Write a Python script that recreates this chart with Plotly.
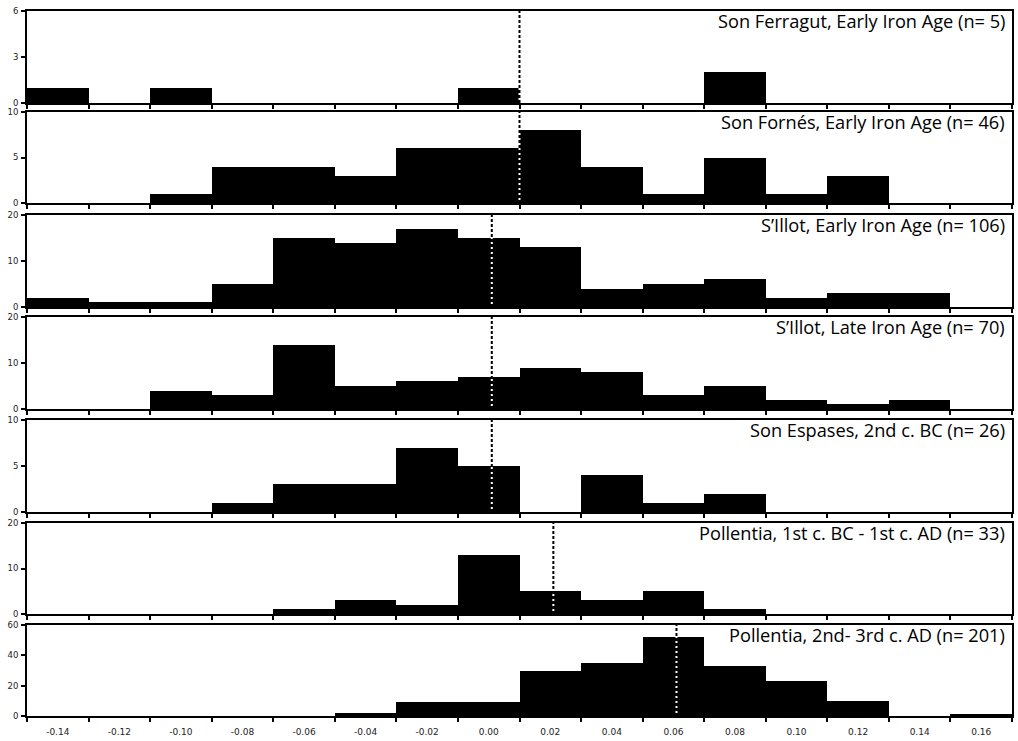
import plotly.graph_objects as go

# Histogram bins: width 0.02, edges from -0.15 to 0.17
bin_centers = [-0.14, -0.12, -0.10, -0.08, -0.06, -0.04, -0.02, 0.00,
               0.02, 0.04, 0.06, 0.08, 0.10, 0.12, 0.14, 0.16]
bin_edges = [-0.15, -0.13, -0.11, -0.09, -0.07, -0.05, -0.03, -0.01,
             0.01, 0.03, 0.05, 0.07, 0.09, 0.11, 0.13, 0.15, 0.17]
x_tick_labels = ["-0.14", "-0.12", "-0.10", "-0.08", "-0.06", "-0.04", "-0.02", "0.00",
                 "0.02", "0.04", "0.06", "0.08", "0.10", "0.12", "0.14", "0.16"]

titles = [
    "Son Ferragut, Early Iron Age (n= 5)",
    "Son Fornés, Early Iron Age (n= 46)",
    "S\u2019Illot, Early Iron Age (n= 106)",
    "S\u2019Illot, Late Iron Age (n= 70)",
    "Son Espases, 2nd c. BC (n= 26)",
    "Pollentia, 1st c. BC - 1st c. AD (n= 33)",
    "Pollentia, 2nd- 3rd c. AD (n= 201)",
]

son_ferragut_eia = [1, 0, 1, 0, 0, 0, 0, 1, 0, 0, 0, 2, 0, 0, 0, 0]
son_fornes_eia = [0, 0, 1, 4, 4, 3, 6, 6, 8, 4, 1, 5, 1, 3, 0, 0]
sillot_eia = [2, 1, 1, 5, 15, 14, 17, 15, 13, 4, 5, 6, 2, 3, 3, 0]
sillot_lia = [0, 0, 4, 3, 14, 5, 6, 7, 9, 8, 3, 5, 2, 1, 2, 0]
son_espases_2bc = [0, 0, 0, 1, 3, 3, 7, 5, 0, 4, 1, 2, 0, 0, 0, 0]
pollentia_1bc_1ad = [0, 0, 0, 0, 1, 3, 2, 13, 5, 3, 5, 1, 0, 0, 0, 0]
pollentia_2_3ad = [0, 0, 0, 0, 0, 2, 9, 9, 30, 35, 52, 33, 23, 10, 0, 1]

series = [son_ferragut_eia, son_fornes_eia, sillot_eia, sillot_lia,
          son_espases_2bc, pollentia_1bc_1ad, pollentia_2_3ad]

y_max = [6, 10, 20, 20, 10, 20, 60]
y_ticks = [[0, 3, 6], [0, 5, 10], [0, 10, 20], [0, 10, 20],
           [0, 5, 10], [0, 10, 20], [0, 20, 40, 60]]

# Sample means marked with a dotted vertical line
mean_values = [0.010, 0.010, 0.001, 0.001, 0.001, 0.021, 0.061]

# ---- layout geometry (pixels) ----
W, H = 1018, 741
M_L, M_R, M_T, M_B = 27, 4, 11, 25
plot_h = H - M_T - M_B
panel_top_px = [11, 112, 215, 317, 420, 523, 625]
panel_bot_px = [103, 203, 307, 409, 512, 614, 716]

tick_font = dict(family="DejaVu Sans", size=9, color="#222222")
title_font = dict(family="Open Sans", size=18.2, color="#000000")

fig = go.Figure()
n = len(series)
for i in range(n):
    k = i + 1
    xa = "x" if k == 1 else f"x{k}"
    ya = "y" if k == 1 else f"y{k}"
    fig.add_trace(go.Bar(
        x=bin_centers, y=series[i], width=0.02,
        marker=dict(color="#000000", line=dict(width=0)),
        xaxis=xa, yaxis=ya, showlegend=False, hoverinfo="x+y",
    ))

    d0 = (H - M_B - panel_bot_px[i]) / plot_h
    d1 = (H - M_B - panel_top_px[i]) / plot_h
    last = (i == n - 1)
    xaxis = dict(
        domain=[0, 1], range=[bin_edges[0], bin_edges[-1]], anchor=ya,
        showline=True, linecolor="#000000", linewidth=2, mirror=True,
        showgrid=False, zeroline=False,
        tickmode="array", tickvals=bin_centers, ticktext=x_tick_labels,
        ticks="", showticklabels=last, tickfont=tick_font,
        ticklabelstandoff=6,
        minor=dict(tickmode="array", tickvals=bin_edges, ticks="outside",
                   ticklen=4, tickwidth=1.6, tickcolor="#000000", showgrid=False),
    )
    if k > 1:
        xaxis["matches"] = "x"
    yaxis = dict(
        domain=[d0, d1], range=[0, y_max[i]], anchor=xa,
        showline=True, linecolor="#000000", linewidth=2, mirror=True,
        showgrid=False, zeroline=False,
        tickmode="array", tickvals=y_ticks[i], ticks="outside",
        ticklen=4, tickwidth=1.6, tickcolor="#000000", tickfont=dict(
            family="DejaVu Sans", size=8.5, color="#222222"),
        ticklabelstandoff=1,
    )
    fig.layout[("xaxis" if k == 1 else f"xaxis{k}")] = xaxis
    fig.layout[("yaxis" if k == 1 else f"yaxis{k}")] = yaxis

    # Dotted mean line: black over white areas, white over the bars
    ydom = ("y" if k == 1 else f"y{k}") + " domain"
    fig.add_shape(type="line", xref=xa, yref=ydom,
                  x0=mean_values[i], x1=mean_values[i], y0=0, y1=1,
                  line=dict(color="#000000", width=2, dash="3px,2px"), layer="above")
    fig.add_shape(type="line", xref=xa, yref=ydom,
                  x0=mean_values[i], x1=mean_values[i], y0=0, y1=1,
                  line=dict(color="#ffffff", width=2, dash="0px,3px,2px,0px"), layer="above")

    fig.add_annotation(text=titles[i], xref=xa + " domain", yref=ydom,
                       x=1, y=1, xanchor="right", yanchor="top",
                       xshift=-5, yshift=4, showarrow=False, font=title_font)

fig.update_layout(
    width=W, height=H,
    margin=dict(l=M_L, r=M_R, t=M_T, b=M_B),
    paper_bgcolor="#ffffff", plot_bgcolor="#ffffff",
    bargap=0, barmode="overlay",
)

fig.write_html("out.html")
